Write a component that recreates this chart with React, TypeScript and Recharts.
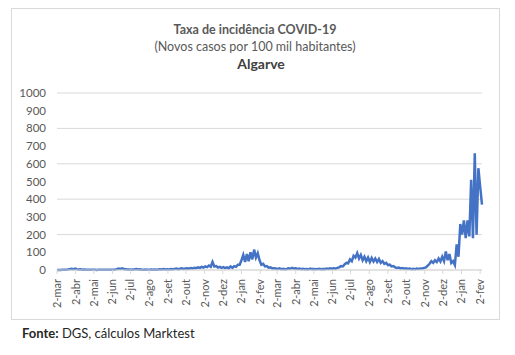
import { CartesianGrid, Line, LineChart, XAxis, YAxis } from "recharts";

// one reading every 3 days, starting 2 Mar 2020 (day 0)
const STEP = 3;

const incidence = [
  // mar-abr 2020
  0, 0, 0, 1, 1, 2, 3, 5, 7, 4,
  8, 5, 3, 4, 2, 3, 2, 1, 2, 1,
  1, 1, 0, 1, 1, 2, 1, 1, 2, 1,
  2, 2, 3, 5, 8, 6, 9, 5, 4, 3,
  3, 2, 3, 4, 6, 3, 4, 2, 2, 3,
  2, 2, 3, 2, 3, 2, 3, 4, 3, 6,
  3, 4, 3, 5, 4, 6, 8, 5, 7, 9,
  6, 8, 10, 7, 11, 9, 13, 10, 15, 12,
  // nov 2020
  18, 14, 20, 16, 25, 18, 45, 20, 22, 14,
  18, 12, 16, 11, 15, 10, 20, 12, 22, 18,
  // jan-fev 2021
  30, 30, 55, 85, 45, 90, 50, 100, 60, 115,
  70, 95, 55, 30, 35, 20, 22, 13, 15, 9,
  // mar-jun 2021
  10, 8, 6, 9, 5, 7, 4, 6, 10, 7,
  12, 8, 10, 6, 8, 5, 7, 4, 6, 4,
  8, 5, 6, 4, 5, 7, 4, 6, 5, 8,
  6, 9, 7, 10, 8, 12, 15, 22, 20, 32,
  // jul-set 2021
  40, 38, 60, 50, 80, 70, 95, 65, 85, 55,
  75, 50, 70, 45, 68, 48, 65, 45, 62, 40,
  50, 35, 40, 28, 30, 20, 22, 15, 12, 14,
  9, 11, 7, 10, 6, 8, 5, 7, 5, 8,
  // nov 2021 - fev 2022
  6, 9, 8, 12, 15, 25, 35, 50, 40, 55,
  45, 65, 48, 75, 50, 105, 55, 90, 40, 50,
  28, 145, 75, 260, 200, 280, 180, 280, 190, 510,
  180, 660, 200, 575, 470, 370,
];

const tickDays = [
  0, 31, 61, 92, 122, 153, 184, 214, 245, 275, 306, 337,
  365, 396, 426, 457, 487, 518, 549, 579, 610, 640, 671, 702,
];
const tickLabels = [
  "2-mar", "2-abr", "2-mai", "2-jun", "2-jul", "2-ago", "2-set", "2-out", "2-nov", "2-dez", "2-jan", "2-fev",
  "2-mar", "2-abr", "2-mai", "2-jun", "2-jul", "2-ago", "2-set", "2-out", "2-nov", "2-dez", "2-jan", "2-fev",
];
const yTicks = [0, 100, 200, 300, 400, 500, 600, 700, 800, 900, 1000];

const data = incidence.map((v, i) => ({ day: i * STEP, value: v }));

const FONT = "Lato, 'Noto Sans', sans-serif";
const GREY = "#595959";

const DateTick = (props: any) => {
  const { x, y, payload } = props;
  const label = tickLabels[tickDays.indexOf(payload.value)];
  return (
    <g transform={`translate(${x},${y})`}>
      <text
        transform="rotate(-90)"
        x={-3}
        y={0}
        dy="0.35em"
        textAnchor="end"
        fontSize={11}
        fill={GREY}
        fontFamily={FONT}
      >
        {label}
      </text>
    </g>
  );
};

export default function App() {
  return (
    <div
      style={{
        position: "absolute",
        left: 0,
        top: 0,
        width: 515,
        height: 355,
        background: "#fff",
        fontFamily: FONT,
      }}
    >
      <LineChart
        width={515}
        height={355}
        data={data}
        margin={{ top: 93, right: 33, bottom: 0, left: 0 }}
      >
        <CartesianGrid vertical={false} stroke="#d9d9d9" />
        <XAxis
          dataKey="day"
          type="number"
          domain={[0, 705]}
          ticks={tickDays}
          interval={0}
          height={85}
          stroke="#d9d9d9"
          tickSize={4}
          tickMargin={2}
          tick={<DateTick />}
        />
        <YAxis
          domain={[0, 1000]}
          ticks={yTicks}
          width={57}
          axisLine={false}
          tickLine={false}
          tickSize={0}
          tickMargin={11}
          tick={{ fontSize: 11.5, fill: GREY, fontFamily: FONT }}
        />
        <Line
          type="linear"
          dataKey="value"
          stroke="#4472C4"
          strokeWidth={2.5}
          dot={false}
          isAnimationActive={false}
        />
      </LineChart>
      <svg
        width={515}
        height={355}
        style={{ position: "absolute", left: 0, top: 0, pointerEvents: "none" }}
      >
        <rect x={11.5} y={8.5} width={488} height={311} fill="none" stroke="#d9d9d9" />
        <text x={255} y={34} textAnchor="middle" fontSize={12.5} fontWeight="bold" fill={GREY} fontFamily={FONT}>
          Taxa de incidência COVID-19
        </text>
        <text x={255} y={51} textAnchor="middle" fontSize={12.5} fill={GREY} fontFamily={FONT}>
          (Novos casos por 100 mil habitantes)
        </text>
        <text x={261} y={69} textAnchor="middle" fontSize={14} fontWeight="bold" fill="#404040" fontFamily={FONT}>
          Algarve
        </text>
        <text x={22} y={338} fontSize={13} fill="#262626" fontFamily={FONT}>
          <tspan fontWeight="bold">Fonte:</tspan> DGS, cálculos Marktest
        </text>
      </svg>
    </div>
  );
}
